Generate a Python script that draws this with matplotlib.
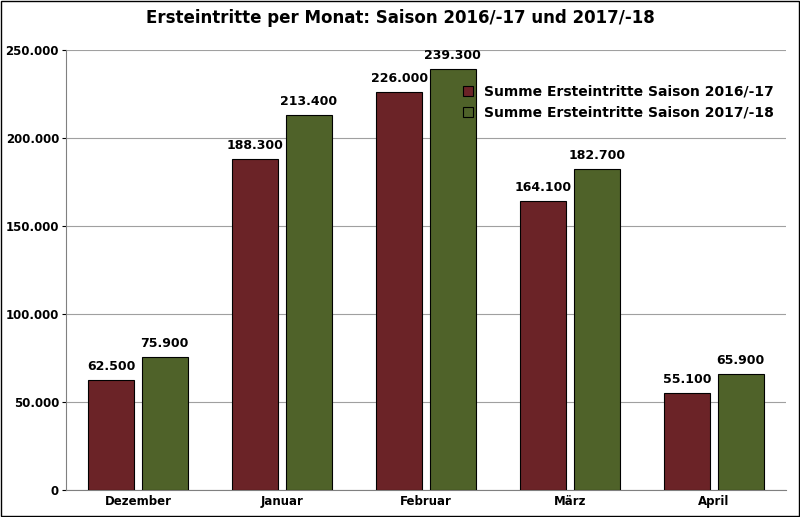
import matplotlib
matplotlib.use("Agg")
import matplotlib.pyplot as plt
import numpy as np
from matplotlib.ticker import FuncFormatter

months = ["Dezember", "Januar", "Februar", "März", "April"]
s1617 = [62500, 188300, 226000, 164100, 55100]
s1718 = [75900, 213400, 239300, 182700, 65900]
labels = ["Summe Ersteintritte Saison 2016/-17", "Summe Ersteintritte Saison 2017/-18"]

def fmt(v, _=None):
    return f"{int(v):,}".replace(",", ".")

fig = plt.figure(figsize=(8, 5.17), dpi=100)
ax = fig.add_axes([0.0825, 0.052, 0.9, 0.851])
x = np.arange(len(months))
w = 0.32
off = 0.186
b1 = ax.bar(x - off, s1617, w, color="#6B2327", edgecolor="black", linewidth=0.8, label=labels[0], zorder=3)
b2 = ax.bar(x + off, s1718, w, color="#4F6229", edgecolor="black", linewidth=0.8, label=labels[1], zorder=3)
for bars, vals in ((b1, s1617), (b2, s1718)):
    for r, v in zip(bars, vals):
        ax.text(r.get_x() + r.get_width()/2, v + 4000, fmt(v), ha="center", va="bottom",
                fontsize=9, fontweight="bold")
ax.set_ylim(0, 250000)
ax.set_xlim(-0.5, 4.5)
ax.set_yticks(range(0, 250001, 50000))
ax.yaxis.set_major_formatter(FuncFormatter(fmt))
ax.set_xticks(x)
ax.set_xticklabels(months)
for t in ax.get_xticklabels() + ax.get_yticklabels():
    t.set_fontweight("bold")
    t.set_fontsize(8.5)
ax.tick_params(axis="y", pad=2, length=3)
ax.grid(axis="y", color="#a0a0a0", linewidth=0.8, zorder=0)
for s in ["top", "right"]:
    ax.spines[s].set_visible(False)
ax.spines["left"].set_color("#808080")
ax.spines["bottom"].set_color("#808080")
ax.tick_params(axis="x", length=0)
ax.legend(loc="upper right", bbox_to_anchor=(1.0, 0.95), frameon=False,
          prop={"weight": "bold", "size": 10}, handlelength=0.7, handleheight=0.7)
fig.text(0.5, 0.965, "Ersteintritte per Monat: Saison 2016/-17 und 2017/-18", ha="center", va="center",
         fontsize=12, fontweight="bold")
fig.patches.append(plt.Rectangle((0.001, 0.001), 0.998, 0.998, transform=fig.transFigure,
                                 fill=False, edgecolor="black", linewidth=1))
fig.savefig("out.png", dpi=100)
